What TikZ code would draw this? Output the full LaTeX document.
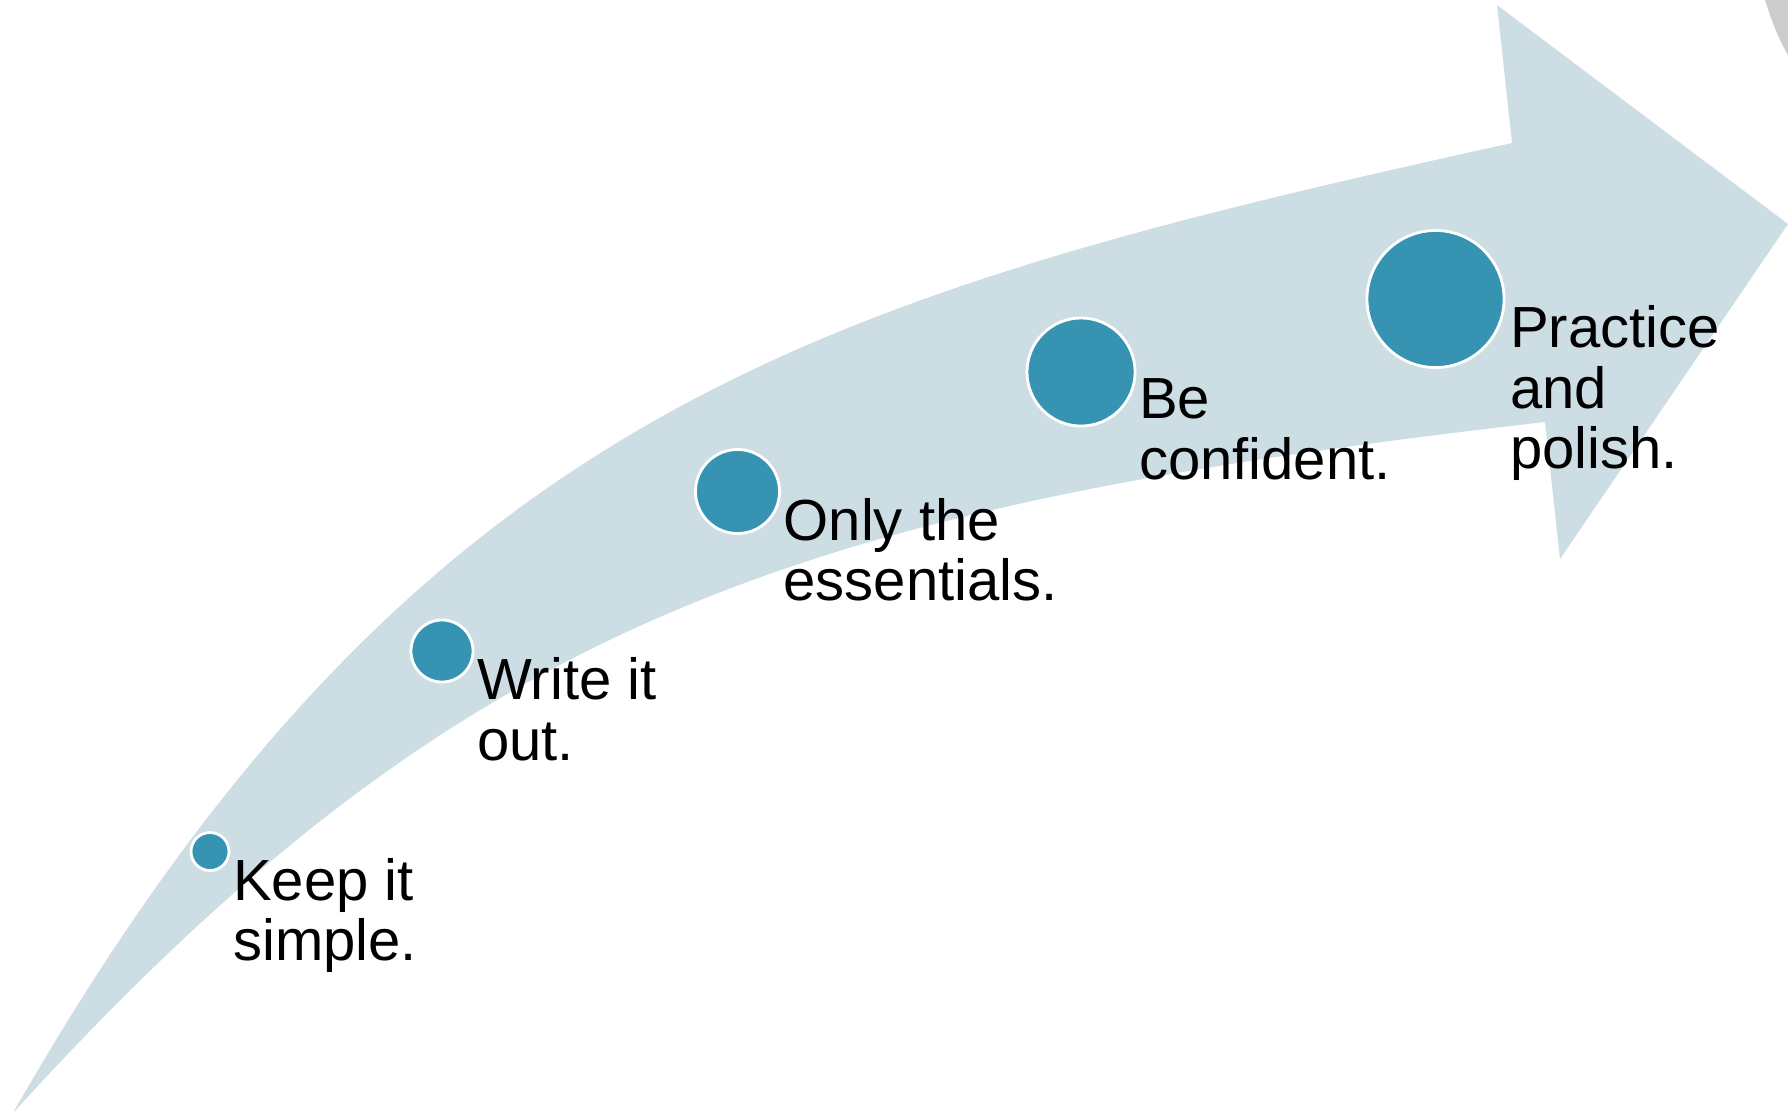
\documentclass[tikz,border=0pt]{standalone}
\usepackage{fontspec}
\setmainfont{Liberation Sans}
\usetikzlibrary{positioning}
\definecolor{BandBlue}{RGB}{205,221,228}
\definecolor{DotTeal}{RGB}{55,147,178}
\definecolor{RingGrey}{RGB}{204,204,204}

\begin{document}
\begin{tikzpicture}[x=0.01cm, y=-0.01cm,
	dot/.style={circle, draw=white, line width=0.8pt, fill=DotTeal, inner sep=0pt},
	lbl/.style={align=left, inner sep=0pt, font=\fontsize{16.5}{17.2}\selectfont}]
	\useasboundingbox (0,0) rectangle (1788,1114);
	% grey ring in the corner
	\fill[RingGrey] (1765,0) .. controls (1772,22) and (1779,40) .. (1788,55) -- (1788,0) -- cycle;
	% curved arrow
	\fill[BandBlue] (13,1113) .. controls (413,413) and (812,297) .. (1512,143)
		-- (1497,5) -- (1788,224) -- (1560,559) -- (1545,422)
		.. controls (795,508) and (463,618) .. (13,1113) -- cycle;
	% steps
	\node[dot, minimum size=0.38cm] (c1) at (210,851.5) {};
	\node[dot, minimum size=0.62cm] (c2) at (442,651) {};
	\node[dot, minimum size=0.84cm] (c3) at (737.5,491.5) {};
	\node[dot, minimum size=1.08cm] (c4) at (1081,372) {};
	\node[dot, minimum size=1.37cm] (c5) at (1435.5,299) {};
	\node[lbl, below right=0.06cm and 0.02cm of c1.east] (t1) {Keep it\\simple.};
	\node[lbl, below right=0.06cm and 0.02cm of c2.east] (t2) {Write it\\out.};
	\node[lbl, below right=0.06cm and 0.02cm of c3.east] (t3) {Only the\\essentials.};
	\node[lbl, below right=0.06cm and 0.02cm of c4.east] (t4) {Be\\confident.};
	\node[lbl, below right=0.06cm and 0.04cm of c5.east] (t5) {Practice\\and\\polish.};
\end{tikzpicture}
\end{document}
